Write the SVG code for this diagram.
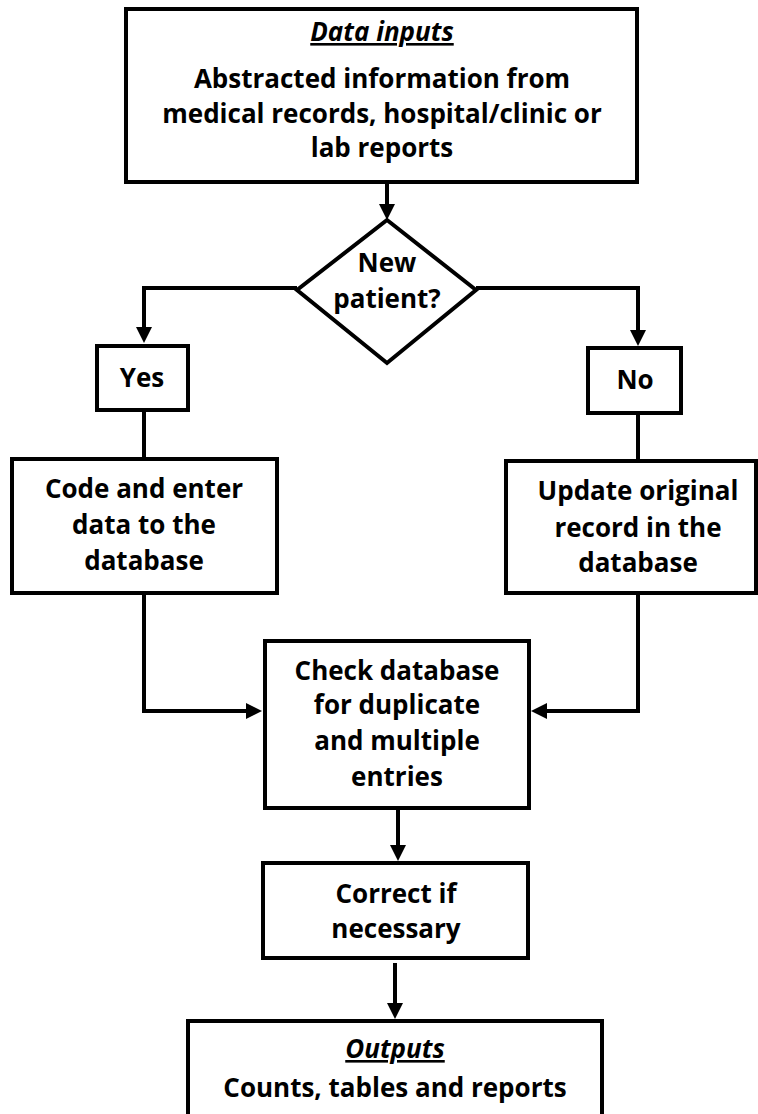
<svg xmlns="http://www.w3.org/2000/svg" width="758" height="1114" viewBox="0 0 758 1114">
<defs>
<style>
.box{fill:#fff;stroke:#000;stroke-width:4}
.t{font-family:"Open Sans","Liberation Sans",sans-serif;font-weight:700;font-size:26px;fill:#000;text-anchor:middle}
.h{font-style:italic;text-decoration:underline}
.c{fill:none;stroke:#000;stroke-width:4}
</style>
<marker id="ah" viewBox="0 0 16 16" refX="6" refY="8" markerWidth="16" markerHeight="16" markerUnits="userSpaceOnUse" orient="auto">
<path d="M0,0 L16,8 L0,16 z" fill="#000"/>
</marker>
</defs>
<rect width="758" height="1114" fill="#fff"/>
<g id="connectors">
<path class="c" d="M387,182 V210" marker-end="url(#ah)"/>
<path class="c" d="M297,288 H144 V333" marker-end="url(#ah)"/>
<path class="c" d="M476,288 H638 V336" marker-end="url(#ah)"/>
<path class="c" d="M144,410 V459"/>
<path class="c" d="M638,413 V461"/>
<path class="c" d="M144,593 V711 H252" marker-end="url(#ah)"/>
<path class="c" d="M638,593 V711 H541" marker-end="url(#ah)"/>
<path class="c" d="M398,808 V851" marker-end="url(#ah)"/>
<path class="c" d="M395,963 V1009" marker-end="url(#ah)"/>
</g>
<g id="data-inputs">
<rect class="box" x="126" y="9" width="511" height="173"/>
<text class="t h" x="382" y="41">Data inputs</text>
<text class="t" x="382" y="88">Abstracted information from</text>
<text class="t" x="382" y="123">medical records, hospital/clinic or</text>
<text class="t" x="382" y="157">lab reports</text>
</g>
<g id="new-patient">
<polygon class="box" points="387,220 476,290 387,363 297,290"/>
<text class="t" x="387" y="272">New</text>
<text class="t" x="387" y="308">patient?</text>
</g>
<g id="yes">
<rect class="box" x="97" y="346" width="91" height="64"/>
<text class="t" x="142" y="387">Yes</text>
</g>
<g id="no">
<rect class="box" x="588" y="348" width="93" height="65"/>
<text class="t" x="635" y="389">No</text>
</g>
<g id="code-enter">
<rect class="box" x="12" y="459" width="265" height="134"/>
<text class="t" x="144" y="498">Code and enter</text>
<text class="t" x="144" y="534">data to the</text>
<text class="t" x="144" y="570">database</text>
</g>
<g id="update-record">
<rect class="box" x="506" y="461" width="250" height="132"/>
<text class="t" x="638" y="500">Update original</text>
<text class="t" x="638" y="537">record in the</text>
<text class="t" x="638" y="572">database</text>
</g>
<g id="check-database">
<rect class="box" x="265" y="641" width="264" height="167"/>
<text class="t" x="397" y="680">Check database</text>
<text class="t" x="397" y="714">for duplicate</text>
<text class="t" x="397" y="750">and multiple</text>
<text class="t" x="397" y="786">entries</text>
</g>
<g id="correct">
<rect class="box" x="263" y="863" width="265" height="95"/>
<text class="t" x="396" y="903">Correct if</text>
<text class="t" x="396" y="938">necessary</text>
</g>
<g id="outputs">
<rect class="box" x="188" y="1021" width="414" height="110"/>
<text class="t h" x="395" y="1058">Outputs</text>
<text class="t" x="395" y="1097">Counts, tables and reports</text>
</g>
</svg>
